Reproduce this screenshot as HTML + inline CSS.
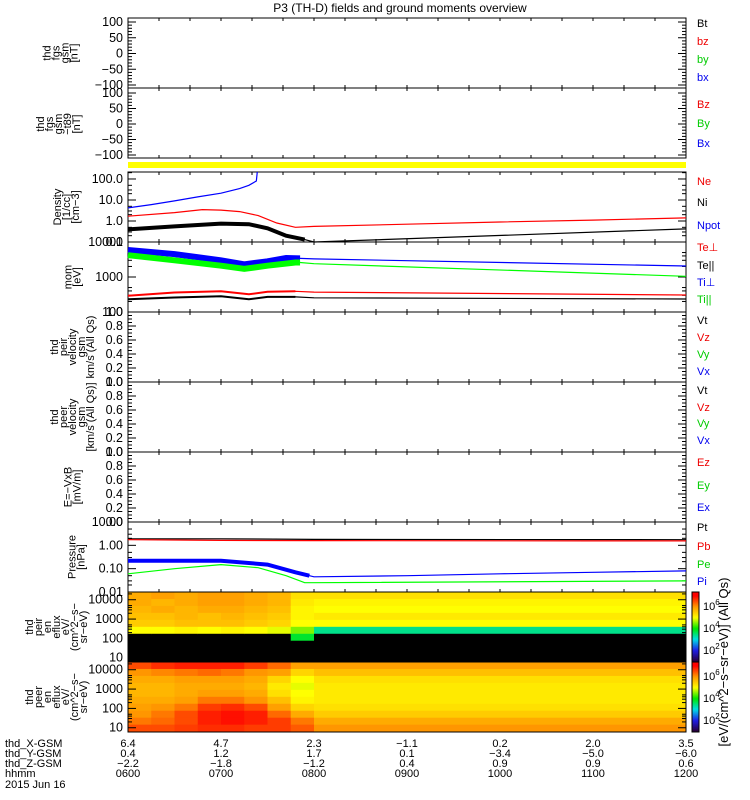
<!DOCTYPE html>
<html><head><meta charset="utf-8"><style>
html,body{margin:0;padding:0;background:#fff;width:750px;height:800px;overflow:hidden}
svg{display:block;font-family:"Liberation Sans",sans-serif}
</style></head><body>
<svg id="c" width="750" height="800" xmlns="http://www.w3.org/2000/svg">
<text x="400" y="12" text-anchor="middle" font-size="12">P3 (TH-D) fields and ground moments overview</text>
<rect x="128" y="162" width="558" height="6" fill="#ffff00"/>
</svg>
<script>
// ---- data ----
const hourTicks=["0600","0700","0800","0900","1000","1100","1200"];
const xGsm=["6.4","4.7","2.3","-1.1","0.2","2.0","3.5"];
const yGsm=["0.4","1.2","1.7","0.1","-3.4","-5.0","-6.0"];
const zGsm=["-2.2","-1.8","-1.2","0.4","0.9","0.9","0.6"];
const npotT=[6.0,6.25,6.5,6.75,7.0,7.2,7.3,7.38,7.39];
const npotV=[4.2,6,9,14,21,35,50,80,300];
const neT=[6.0,6.5,6.8,7.0,7.2,7.4,7.6,7.8,8.0,9,10,11,12];
const neV=[1.7,2.5,3.5,3.3,2.8,1.8,0.8,0.5,0.55,0.7,0.9,1.1,1.4];
const niT=[6.0,6.5,7.0,7.3,7.5,7.7,7.9,8.0,12];
const niV=[0.4,0.55,0.75,0.7,0.45,0.2,0.13,0.1,0.42];
const tiPerpT=[6.0,6.5,7.0,7.25,7.5,7.7,7.85,8.0,12];
const tiPerpV=[5900,4500,3000,2300,2800,3500,3400,3300,2060];
const tiParT=[6.0,6.5,7.0,7.25,7.5,7.8,7.85,8.0,12];
const tiParV=[4200,3000,2100,1700,2100,2600,2600,2400,1050];
const tePerpT=[6.0,6.5,7.0,7.3,7.5,7.8,8.0,12];
const tePerpV=[290,360,390,320,380,390,370,306];
const teParT=[6.0,6.5,7.0,7.3,7.5,7.8,8.0,12];
const teParV=[230,260,280,230,270,270,255,235];
const ptT=[6.0,7.0,8.0,12];
const ptV=[1.9,1.9,1.8,1.75];
const pbT=[6.0,7.0,8.0,11,12];
const pbV=[1.75,1.62,1.6,1.55,1.55];
const peT=[6.0,6.5,7.0,7.4,7.7,7.9,8.0,12];
const peV=[0.06,0.1,0.15,0.11,0.05,0.025,0.025,0.03];
const piT=[6.0,7.0,7.5,7.8,7.95,8.0,9,10,11,12];
const piV=[0.22,0.22,0.15,0.07,0.05,0.045,0.05,0.06,0.07,0.08];
const specT=[6.0,6.25,6.5,6.75,7.0,7.25,7.5,7.75,8.0,12.0];
const specLogE=[4.40,4.04,3.68,3.32,2.96,2.60,2.24,1.88,1.52,1.16,0.78];
const ionFlux=[
[5.8,5.8,5.7,5.6,5.5,5.0,0,0,0,0],
[5.9,5.7,5.8,5.6,5.5,5.0,0,0,0,0],
[5.8,5.8,5.7,5.7,5.6,5.1,0,0,0,0],
[5.9,5.9,5.8,5.6,5.6,5.0,0,0,0,0],
[5.9,5.9,5.8,5.7,5.6,5.1,0,0,0,0],
[5.8,5.8,5.7,5.6,5.5,5.0,0,0,0,0],
[5.7,5.7,5.6,5.5,5.4,4.9,0,0,0,0],
[5.3,5.2,5.1,5.1,5.0,4.5,3.8,0,0,0],
[5.3,5.1,5.0,5.2,5.0,3.4,0,0,0,0]];
const eleFlux=[
[6.5,6.0,5.8,5.7,5.7,5.8,5.9,6.0,6.2,6.5],
[6.7,6.1,5.8,5.7,5.7,5.8,6.0,6.2,6.3,6.5],
[6.8,6.2,5.9,5.8,5.8,5.9,6.2,6.5,6.5,6.6],
[6.8,6.3,5.9,5.8,5.9,6.2,6.6,6.8,6.8,6.7],
[6.8,6.2,5.9,5.8,5.9,6.2,6.7,6.9,6.9,6.7],
[6.6,6.0,5.8,5.7,5.8,6.0,6.5,6.8,6.8,6.6],
[6.3,5.9,5.4,5.2,5.3,5.6,5.9,6.3,6.6,6.6],
[5.9,5.4,5.0,4.9,5.0,5.1,5.4,5.8,6.2,6.4],
[5.9,5.6,5.3,5.2,5.2,5.2,5.3,5.5,5.8,6.0]];

// ---- helpers ----
const NS="http://www.w3.org/2000/svg", svg=document.getElementById('c');
const X0=128,X1=686;
const xs=t=>X0+(t-6)*(X1-X0)/6;
function el(tag,attrs,parent){const e=document.createElementNS(NS,tag);for(const k in attrs)e.setAttribute(k,attrs[k]);(parent||svg).appendChild(e);return e;}
function txt(x,y,s,opt,parent){const e=el('text',Object.assign({x:x,y:y,'font-size':11},opt||{}),parent);e.textContent=s;return e;}
const linY=(top,bot,lo,hi)=>v=>bot-(v-lo)/(hi-lo)*(bot-top);
const logY=(top,bot,lo,hi)=>v=>bot-(Math.log10(v)-Math.log10(lo))/(Math.log10(hi)-Math.log10(lo))*(bot-top);

function frame(top,bot,name){
  const r=el('rect',{x:X0,y:top,width:X1-X0,height:bot-top,fill:'none',stroke:'#000','stroke-width':1});
  
  
  for(let i=1;i<18;i++){const x=X0+i*(X1-X0)/18;
    el('line',{x1:x,x2:x,y1:top,y2:top+3,stroke:'#000'});el('line',{x1:x,x2:x,y1:bot,y2:bot-3,stroke:'#000'});}
}
function yTicks(vals,labels,fy,minor,name){
  const g=el('g',{});
  
  
  vals.forEach((v,i)=>{const y=fy(v);el('line',{x1:X0,x2:X0+8,y1:y,y2:y,stroke:'#000'},g);el('line',{x1:X1,x2:X1-8,y1:y,y2:y,stroke:'#000'},g);
    txt(123,y+4,labels[i],{'text-anchor':'end','font-size':12.5},g);});
  (minor||[]).forEach(v=>{const y=fy(v);el('line',{x1:X0,x2:X0+4,y1:y,y2:y,stroke:'#000'},g);el('line',{x1:X1,x2:X1-4,y1:y,y2:y,stroke:'#000'},g);});
}
function ylabel(lines,cx,cy,name){
  const g=el('g',{});
  
  
  const n=lines.length;
  lines.forEach((s,i)=>{const x=cx-(n-1)*4.5+i*9+4;txt(x,cy,s,{'text-anchor':'middle','font-size':11,transform:`rotate(-90 ${x} ${cy})`},g);});
}
function legend(items,name){
  items.forEach(([s,col,y])=>{const t=txt(697,y,s,{fill:col,'font-size':11});
    
    });
}
function series(T,V,fy,col,name,noiseEnd,noiseW){
  const pts=T.map((t,i)=>xs(t)+','+fy(V[i]).toFixed(1)).join(' ');
  const p=el('polyline',{points:pts,fill:'none',stroke:col,'stroke-width':1.2});
  
  
  if(noiseEnd){const idx=T.filter(t=>t<=noiseEnd).length;
    const pts2=T.slice(0,idx).map((t,i)=>xs(t)+','+fy(V[i]).toFixed(1)).join(' ');
    el('polyline',{points:pts2,fill:'none',stroke:col,'stroke-width':noiseW});}
}
function cmap(v){
  if(v<=0.5)return '#000';
  const stops=[[1,[40,0,60]],[2,[30,30,230]],[3,[0,220,230]],[4,[0,230,0]],[5,[255,255,0]],[6,[255,150,0]],[7,[255,0,0]]];
  if(v<=1)return 'rgb(40,0,60)';if(v>=7)return 'rgb(255,0,0)';
  for(let i=0;i<stops.length-1;i++){if(v>=stops[i][0]&&v<=stops[i+1][0]){const f=v-stops[i][0];const a=stops[i][1],b=stops[i+1][1];
    return `rgb(${a.map((c,k)=>Math.round(c+(b[k]-c)*f)).join(',')})`;}}
}
function spectro(top,bot,flux,name){
  const g=el('g',{});
  
  
  const fy=v=>bot-(v-specLogE[specLogE.length-1])/(specLogE[0]-specLogE[specLogE.length-1])*(bot-top);
  for(let c=0;c<specT.length-1;c++){
    for(let r=0;r<specLogE.length-1;r++){
      const y1=fy(specLogE[r]),y2=fy(specLogE[r+1]);
      el('rect',{x:xs(specT[c]),y:y1,width:xs(specT[c+1])-xs(specT[c])+0.5,height:y2-y1+0.5,fill:cmap(flux[c][r])},g);
    }
  }
  const ly=v=>fy(Math.log10(v));
  yTicks([10,100,1000,10000],['10','100','1000','10000'],ly,[20,30,40,50,200,300,400,500,2000,3000,4000,5000,20000],name);
  el('rect',{x:X0,y:top,width:X1-X0,height:bot-top,fill:'none',stroke:'#000'});
}
function colorbar(top,bot,name){
  const g=el('g',{});
  
  
  const lo=0.9,hi=7.3,n=64;
  for(let i=0;i<n;i++){const v=lo+(hi-lo)*(i+0.5)/n;const y=bot-(i+1)*(bot-top)/n;
    el('rect',{x:692,y:y,width:7,height:(bot-top)/n+0.5,fill:cmap(v<1.1?1:v)},g);}
  el('rect',{x:692,y:top,width:7,height:bot-top,fill:'none',stroke:'#000'},g);
  [2,4,6].forEach(p=>{const y=bot-(p-lo)/(hi-lo)*(bot-top);
    const t=txt(703,y+4,'10',{'font-size':11},g);const s=el('tspan',{dy:-5,'font-size':8},t);s.textContent=p;});
}

// ---- panel 1: fgs gsm ----
let f=linY(22,85,-100,100);
frame(18,88,'fgs-panel');
yTicks([100,50,0,-50,-100],['100','50','0','\u221250','\u2212100'],f,[90,80,70,60,40,30,20,10,-10,-20,-30,-40,-60,-70,-80,-90],'fgs-panel');
ylabel(['thd','fgs','gsm','[nT]'],60,53,'fgs-panel');
legend([['Bt','#000',27],['bz','#e00',45],['by','#0c0',63],['bx','#00e',81]],'fgs');
// ---- panel 2 ----
f=linY(93,155,-100,100);
frame(88,158,'fgs-tb-panel');
yTicks([100,50,0,-50,-100],['100','50','0','\u221250','\u2212100'],f,[90,80,70,60,40,30,20,10,-10,-20,-30,-40,-60,-70,-80,-90],'fgs-tb-panel');
ylabel(['thd','fgs','gsm','\u2212t89','[nT]'],58,124,'fgs-tb-panel');
legend([['Bz','#e00',108],['By','#0c0',127],['Bx','#00e',147]],'fgs-tb');
// ---- panel 3 density ----
f=logY(172,242,0.1,215);
frame(172,242,'density-panel');
yTicks([100,10,1,0.1],['100.0','10.0','1.0','0.1'],f,[0.2,0.3,0.5,2,3,5,20,30,50,200],'density-panel');
ylabel(['Density','[1/cc]','[cm\u22123]'],66,207,'density-panel');
legend([['Ne','#e00',185],['Ni','#000',206],['Npot','#00e',229]],'density');
series(npotT,npotV.map(v=>Math.min(v,215)),f,'#0000ff','npot-line');
series(neT,neV,f,'#ff0000','ne-line');
series(niT,niV.map(v=>Math.max(v,0.1)),f,'#000','ni-line',7.95,4);
// ---- panel 4 temperature ----
f=logY(242,312,100,10000);
frame(242,312,'temperature-panel');
yTicks([10000,1000,100],['10000','1000','100'],f,[200,300,400,500,2000,3000,4000,5000],'temperature-panel');
ylabel(['mom','[eV]'],72,277,'temperature-panel');
legend([['Te\u22a5','#e00',251],['Te||','#000',269],['Ti\u22a5','#00e',286],['Ti||','#0c0',303]],'temperature');
series(tiPerpT,tiPerpV,f,'#0000ff','ti-perp-line',7.85,6);
series(tiParT,tiParV,f,'#00ff00','ti-par-line',7.85,6);
series(tePerpT,tePerpV,f,'#ff0000','te-perp-line',7.85,2);
series(teParT,teParV,f,'#000','te-par-line',7.85,2);
// ---- panels 5-7 empty ----
const emptyTicks=[1,0.8,0.6,0.4,0.2,0];const emptyLab=['1.0','0.8','0.6','0.4','0.2','0.0'];
const emptyMinor=[0.1,0.3,0.5,0.7,0.9,0.05,0.15,0.25,0.35,0.45,0.55,0.65,0.75,0.85,0.95];
[[312,382,'ion-velocity-panel',['thd','peir','velocity','gsm','km/s (All Qs)'],[['Vt','#000',324],['Vz','#e00',341],['Vy','#0c0',358],['Vx','#00e',375]]],
 [382,452,'electron-velocity-panel',['thd','peer','velocity','gsm','[km/s (All Qs)]'],[['Vt','#000',394],['Vz','#e00',411],['Vy','#0c0',427],['Vx','#00e',444]]],
 [452,522,'efield-panel',['E=\u2212VxB','[mV/m]'],[['Ez','#e00',466],['Ey','#0c0',489],['Ex','#00e',511]]]
].forEach(([t,b,n,lab,leg])=>{const fy=linY(t,b,0,1);frame(t,b,n);yTicks(emptyTicks,emptyLab,fy,emptyMinor,n);ylabel(lab,72,(t+b)/2,n);legend(leg,n);});
// ---- panel 8 pressure ----
f=logY(522,592,0.01,10);
frame(522,592,'pressure-panel');
yTicks([10,1,0.1,0.01],['10.00','1.00','0.10','0.01'],f,[0.02,0.03,0.05,0.2,0.3,0.5,2,3,5],'pressure-panel');
ylabel(['Pressure','[nPa]'],76,557,'pressure-panel');
legend([['Pt','#000',531],['Pb','#e00',550],['Pe','#0c0',568],['Pi','#00e',585]],'pressure');
series(ptT,ptV,f,'#000','pt-line');
series(pbT,pbV,f,'#ff0000','pb-line');
series(piT,piV,f,'#0000ff','pi-line',7.95,4);
series(peT,peV,f,'#00ff00','pe-line');
// ---- spectrograms ----
spectro(592,662,ionFlux,'ion-spectrogram');
ylabel(['thd','peir','en','eflux','eV/','(cm^2\u2212s\u2212','sr\u2212eV)'],56,627,'ion-spectrogram');
spectro(662,732,eleFlux,'electron-spectrogram');
ylabel(['thd','peer','en','eflux','eV/','(cm^2\u2212s\u2212','sr\u2212eV)'],56,697,'electron-spectrogram');
colorbar(592,662,'ion-colorbar');
colorbar(662,732,'electron-colorbar');
const cl=txt(728,662,'[eV/(cm^2\u2212s\u2212sr\u2212eV)]  (All Qs)',{'text-anchor':'middle','font-size':13,transform:'rotate(-90 728 662)'});


// ---- bottom axis labels ----
const rows=[['thd_X-GSM',xGsm,747],['thd_Y-GSM',yGsm,757],['thd_Z-GSM',zGsm,767],['hhmm',hourTicks,777]];
rows.forEach(([lab,vals,y])=>{const l=txt(5,y,lab,{'font-size':11});
  
  
  vals.forEach((v,i)=>{txt(xs(6+i),y,v.replace('-','\u2212'),{'text-anchor':'middle','font-size':11});});});
const dt=txt(5,788,'2015 Jun 16',{'font-size':11});


</script>
</body></html>
